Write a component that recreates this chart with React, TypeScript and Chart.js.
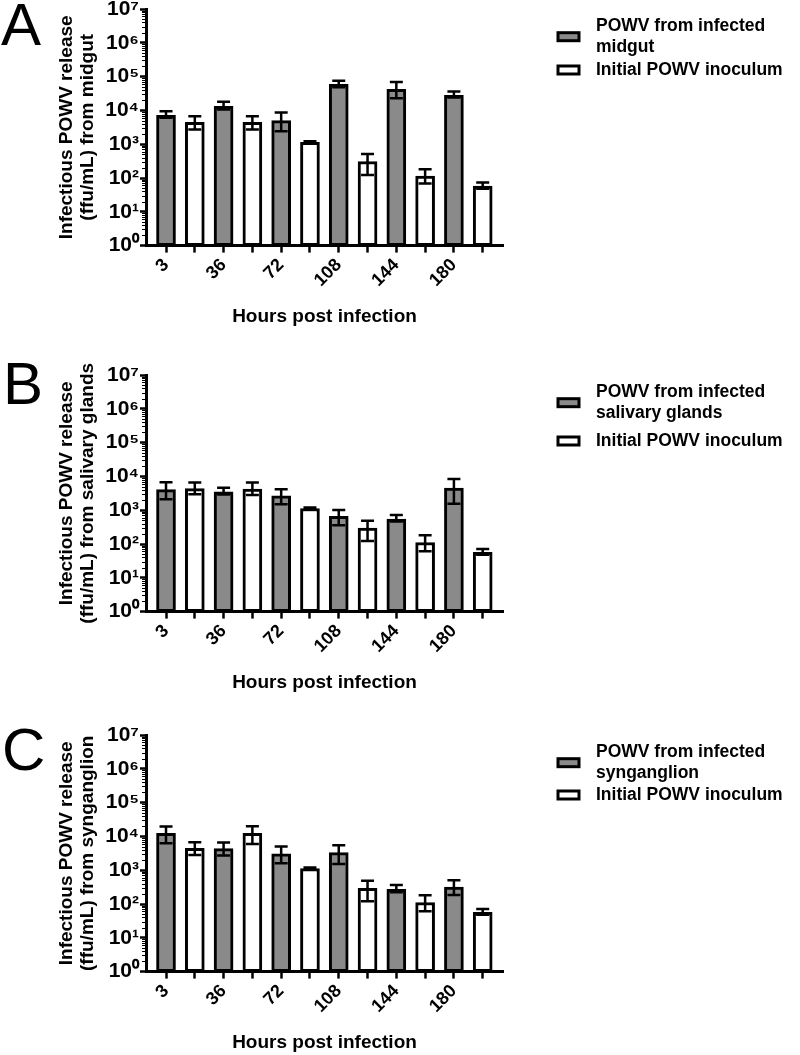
import React, { useEffect, useRef } from 'react';
import { Chart, registerables } from 'chart.js';

Chart.register(...registerables);

// ---------- data ----------
const hourLabels = ['3', '36', '72', '108', '144', '180'];
const inoculumLabel = 'Initial POWV inoculum';
const decadeTicks = [1, 10, 100, 1000, 10000, 100000, 1000000, 10000000];

// Panel A – midgut
const midgutLegend = ['POWV from infected', 'midgut'];
const midgutValues = [7200, 13300, 5000, 59000, 42000, 28000];
const midgutLow = [6100, 10600, 2400, 48000, 23000, 24000];
const midgutHigh = [9500, 17900, 8700, 75000, 69000, 36500];
const midgutInoculum = [4450, 4450, 1140, 305, 114, 58];
const midgutInoculumLow = [2700, 2700, 1080, 122, 69, 48];
const midgutInoculumHigh = [6700, 6700, 1230, 515, 183, 73];

// Panel B – salivary glands
const salivaryLegend = ['POWV from infected', 'salivary glands'];
const salivaryValues = [4050, 3470, 2650, 660, 550, 4550];
const salivaryLow = [2100, 2900, 1500, 360, 460, 1540];
const salivaryHigh = [6700, 4650, 4170, 1020, 725, 8400];
const salivaryInoculum = [4350, 4250, 1120, 294, 110, 57];
const salivaryInoculumLow = [2960, 2830, 1060, 123, 61, 48];
const salivaryInoculumHigh = [6550, 6550, 1200, 490, 182, 71];

// Panel C – synganglion
const synganglionLegend = ['POWV from infected', 'synganglion'];
const synganglionValues = [12400, 4350, 3030, 3300, 273, 314];
const synganglionLow = [6300, 2700, 1610, 1530, 223, 186];
const synganglionHigh = [19500, 6550, 5000, 5460, 366, 505];
const synganglionInoculum = [4470, 12400, 1110, 293, 110, 57];
const synganglionInoculumLow = [2830, 6000, 1040, 121, 61, 48];
const synganglionInoculumHigh = [6700, 20000, 1200, 490, 182, 71];

// ---------- style / layout ----------
const FONT = '"Liberation Sans", Arial, Helvetica, sans-serif';
const GRAY = '#8a8a8a';
const PANEL_H = 340;
const CHART_TOP = 20;
const CHART_H = 236.6;
const AXIS_LEFT = 146;
const AXIS_RIGHT = 503;
const SUP = ['⁰', '¹', '²', '³', '⁴', '⁵', '⁶', '⁷', '⁸', '⁹'];

type PanelCfg = {
  letter: string;
  top: number;
  letterX: number;
  letterBase: number;
  legend2Y: number;
  yTitle: string[];
  legend: string[];
  values: number[];
  low: number[];
  high: number[];
  inoc: number[];
  inocLow: number[];
  inocHigh: number[];
};

const panels: PanelCfg[] = [
  {
    letter: 'A', top: -11, letterX: 1, letterBase: 56, legend2Y: 61,
    yTitle: ['Infectious POWV release', '(ffu/mL) from midgut'],
    legend: midgutLegend,
    values: midgutValues, low: midgutLow, high: midgutHigh,
    inoc: midgutInoculum, inocLow: midgutInoculumLow, inocHigh: midgutInoculumHigh,
  },
  {
    letter: 'B', top: 355, letterX: 3, letterBase: 49, legend2Y: 66,
    yTitle: ['Infectious POWV release', '(ffu/mL) from salivary glands'],
    legend: salivaryLegend,
    values: salivaryValues, low: salivaryLow, high: salivaryHigh,
    inoc: salivaryInoculum, inocLow: salivaryInoculumLow, inocHigh: salivaryInoculumHigh,
  },
  {
    letter: 'C', top: 715, letterX: 2, letterBase: 55, legend2Y: 60,
    yTitle: ['Infectious POWV release', '(ffu/mL) from synganglion'],
    legend: synganglionLegend,
    values: synganglionValues, low: synganglionLow, high: synganglionHigh,
    inoc: synganglionInoculum, inocLow: synganglionInoculumLow, inocHigh: synganglionInoculumHigh,
  },
];

const errorBarPlugin = {
  id: 'errorBars',
  afterDatasetsDraw(chart: any) {
    const ctx = chart.ctx;
    const y = chart.scales.y;
    chart.data.datasets.forEach((ds: any, di: number) => {
      const meta = chart.getDatasetMeta(di);
      meta.data.forEach((bar: any, i: number) => {
        const lo = y.getPixelForValue(ds.errLow[i]);
        const hi = y.getPixelForValue(ds.errHigh[i]);
        const x = bar.x;
        ctx.save();
        ctx.strokeStyle = '#000';
        ctx.lineWidth = 2.5;
        ctx.beginPath();
        ctx.moveTo(x, lo);
        ctx.lineTo(x, hi);
        ctx.moveTo(x - 6.5, hi);
        ctx.lineTo(x + 6.5, hi);
        ctx.moveTo(x - 6.5, lo);
        ctx.lineTo(x + 6.5, lo);
        ctx.stroke();
        ctx.restore();
      });
    });
  },
};

const minorTickPlugin = {
  id: 'minorTicks',
  afterDraw(chart: any) {
    const ctx = chart.ctx;
    const y = chart.scales.y;
    const x0 = chart.chartArea.left;
    ctx.save();
    ctx.strokeStyle = '#000';
    ctx.lineWidth = 1.2;
    ctx.beginPath();
    for (let k = 0; k < 7; k++) {
      for (let m = 2; m <= 9; m++) {
        const py = Math.round(y.getPixelForValue(m * Math.pow(10, k))) + 0.5;
        ctx.moveTo(x0 - 4, py);
        ctx.lineTo(x0, py);
      }
    }
    ctx.stroke();
    ctx.restore();
  },
};

const decorPlugin = {
  id: 'decor',
  afterDraw(chart: any) {
    const ctx = chart.ctx;
    const opts = chart.options.plugins.decor;
    const top = chart.chartArea.top;
    ctx.save();
    // panel letter
    ctx.fillStyle = '#000';
    ctx.font = `60px ${FONT}`;
    ctx.textAlign = 'left';
    ctx.textBaseline = 'alphabetic';
    ctx.fillText(opts.letter, opts.letterX, opts.letterBase);
    // legend
    const boxX = 556.5;
    const boxW = 24;
    const boxH = 11;
    const textX = 596;
    const lineH = 21;
    ctx.font = `bold 17.5px ${FONT}`;
    ctx.textBaseline = 'middle';
    chart.data.datasets.forEach((ds: any, i: number) => {
      const cy = top + (i === 0 ? 27.7 : opts.legend2Y);
      ctx.fillStyle = '#000';
      ctx.fillRect(boxX, cy - boxH / 2, boxW, boxH);
      ctx.fillStyle = ds.backgroundColor;
      ctx.fillRect(boxX + 3, cy - boxH / 2 + 3, boxW - 6, boxH - 6);
      ctx.fillStyle = '#000';
      const lines: string[] = ds.legendLines;
      lines.forEach((ln, li) => {
        const ly = cy + (li - (lines.length - 1) / 2) * lineH;
        ctx.fillText(ln, textX, ly);
      });
    });
    ctx.restore();
  },
};

function Panel({ cfg }: { cfg: PanelCfg }) {
  const ref = useRef<HTMLCanvasElement | null>(null);
  useEffect(() => {
    if (!ref.current) return;
    const chart = new Chart(ref.current, {
      type: 'bar',
      data: {
        datasets: [
          {
            label: cfg.legend.join(' '),
            legendLines: cfg.legend,
            data: cfg.values.map((v, i) => ({ x: i * 2, y: v })),
            errLow: cfg.low,
            errHigh: cfg.high,
            backgroundColor: GRAY,
            borderColor: '#000',
            borderWidth: 3,
            borderSkipped: false,
            barThickness: 19,
            grouped: false,
          } as any,
          {
            label: inoculumLabel,
            legendLines: [inoculumLabel],
            data: cfg.inoc.map((v, i) => ({ x: i * 2 + 1, y: v })),
            errLow: cfg.inocLow,
            errHigh: cfg.inocHigh,
            backgroundColor: '#ffffff',
            borderColor: '#000',
            borderWidth: 3,
            borderSkipped: false,
            barThickness: 19,
            grouped: false,
          } as any,
        ],
      },
      options: {
        responsive: false,
        animation: false,
        layout: { padding: { left: 0, right: 800 - AXIS_RIGHT, top: CHART_TOP, bottom: 0 } },
        plugins: {
          legend: { display: false },
          tooltip: { enabled: false },
          decor: { letter: cfg.letter, letterX: cfg.letterX, letterBase: cfg.letterBase, legend2Y: cfg.legend2Y },
        } as any,
        scales: {
          x: {
            type: 'linear',
            offset: false,
            min: -0.695,
            max: 11.705,
            afterBuildTicks: (s: any) => {
              s.ticks = Array.from({ length: 12 }, (_, i) => ({ value: i }));
            },
            afterFit: (s: any) => {
              s.height = PANEL_H - CHART_TOP - CHART_H;
              s.paddingLeft = 0;
              s.paddingRight = 0;
            },
            ticks: {
              autoSkip: false,
              minRotation: 45,
              maxRotation: 45,
              color: '#000',
              padding: 2,
              font: { family: FONT, size: 18, weight: 'bold' },
              callback: (v: any) => (Number(v) % 2 === 0 ? hourLabels[Number(v) / 2] : ''),
            },
            grid: {
              offset: false,
              drawOnChartArea: false,
              drawTicks: true,
              tickLength: 7,
              tickWidth: 2.5,
              tickColor: '#000',
            },
            border: { display: true, color: '#000', width: 3 },
            title: {
              display: true,
              text: 'Hours post infection',
              color: '#000',
              font: { family: FONT, size: 19, weight: 'bold', lineHeight: 1.2 },
              padding: { top: 0, bottom: 1 },
            },
          },
          y: {
            type: 'logarithmic',
            min: 1,
            max: 10000000,
            afterBuildTicks: (s: any) => {
              s.ticks = decadeTicks.map((v) => ({ value: v, major: true }));
            },
            afterFit: (s: any) => {
              s.width = AXIS_LEFT;
              s.paddingTop = 0;
              s.paddingBottom = 0;
            },
            ticks: {
              autoSkip: false,
              color: '#000',
              padding: 1,
              font: { family: FONT, size: 21, weight: 'bold' },
              callback: (v: any) => '10' + SUP[Math.round(Math.log10(Number(v)))],
            },
            grid: {
              drawOnChartArea: false,
              drawTicks: true,
              tickLength: 6,
              tickWidth: 2.5,
              tickColor: '#000',
            },
            border: { display: true, color: '#000', width: 3 },
            title: {
              display: true,
              text: cfg.yTitle,
              color: '#000',
              font: { family: FONT, size: 19, weight: 'bold', lineHeight: 1.1 },
              padding: { top: 56.5, bottom: 0 },
            },
          },
        },
      } as any,
      plugins: [errorBarPlugin, minorTickPlugin, decorPlugin],
    });
    return () => chart.destroy();
  }, [cfg]);
  return (
    <div style={{ position: 'absolute', left: 0, top: cfg.top, width: 800, height: PANEL_H }}>
      <canvas ref={ref} width={800} height={PANEL_H} style={{ display: 'block' }} />
    </div>
  );
}

export default function App() {
  return (
    <div
      style={{
        position: 'absolute',
        left: 0,
        top: 0,
        width: 800,
        height: 1055,
        overflow: 'hidden',
        background: '#fff',
      }}
    >
      {panels.map((p) => (
        <Panel key={p.letter} cfg={p} />
      ))}
    </div>
  );
}
